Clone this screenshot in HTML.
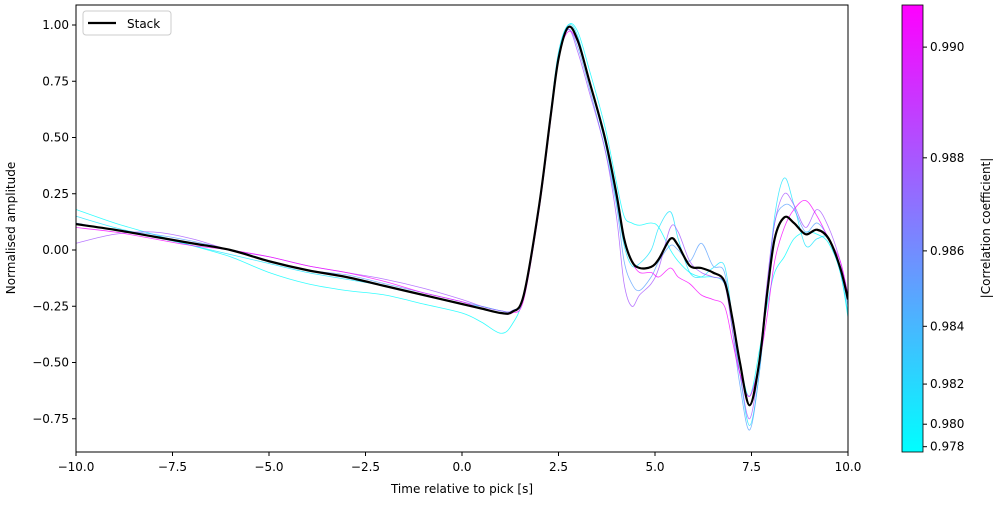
<!DOCTYPE html>
<html><head><meta charset="utf-8"><style>
body{margin:0;background:#fff;font-family:"Liberation Sans","DejaVu Sans",sans-serif}
svg text{font-family:"DejaVu Sans","Liberation Sans",sans-serif;font-size:12px;fill:#000}
</style></head><body>
<svg id="chart" width="1000" height="500" xmlns="http://www.w3.org/2000/svg">
<defs><linearGradient id="cg" x1="0" y1="1" x2="0" y2="0"><stop offset="0" stop-color="#00ffff"/><stop offset="1" stop-color="#ff00ff"/></linearGradient>
<clipPath id="clip"><rect x="76" y="5" width="772" height="447"/></clipPath></defs>
<g id="traces" clip-path="url(#clip)"></g>
<rect x="76" y="5" width="772" height="447" fill="none" stroke="#000"/>
<g id="axes"></g>
<text x="462" y="493" text-anchor="middle">Time relative to pick [s]</text>
<text transform="translate(15,228) rotate(-90)" text-anchor="middle">Normalised amplitude</text>
<g>
<rect x="83" y="11" width="88" height="24" rx="3" fill="#fff" stroke="#ccc"/>
<line x1="88" y1="23" x2="116" y2="23" stroke="#000" stroke-width="2.2"/>
<text x="127" y="28">Stack</text></g>
<rect x="902" y="5" width="21" height="447" fill="url(#cg)" stroke="#000" stroke-width="0.8"/>
<g id="cbticks"></g>
<text transform="translate(990,228) rotate(-90)" text-anchor="middle">|Correlation coefficient|</text>
</svg>
<script>
const times=[-10,-9,-8,-7,-6,-5,-4,-3,-2,-1,0,0.5,1,1.3,1.6,2,2.3,2.5,2.75,3,3.3,3.7,4,4.2,4.4,4.6,4.9,5.1,5.4,5.6,5.9,6.2,6.5,6.8,7,7.2,7.45,7.7,7.9,8.1,8.35,8.6,8.9,9.2,9.5,9.8,10];
const stack=[0.115,0.09,0.06,0.03,0.0,-0.05,-0.09,-0.12,-0.16,-0.2,-0.24,-0.26,-0.28,-0.275,-0.2,0.2,0.6,0.85,0.99,0.93,0.75,0.5,0.25,0.05,-0.05,-0.08,-0.075,-0.04,0.05,0.02,-0.07,-0.08,-0.1,-0.14,-0.3,-0.5,-0.69,-0.5,-0.2,0.05,0.145,0.12,0.07,0.09,0.05,-0.08,-0.22];
const corr=[0.978,0.981,0.985,0.988,0.9905];
const tr0=[0.18,0.12,0.07,0.02,-0.03,-0.1,-0.15,-0.18,-0.2,-0.24,-0.28,-0.32,-0.37,-0.33,-0.2,0.2,0.6,0.87,1.0,0.97,0.8,0.55,0.3,0.15,0.12,0.11,0.12,0.1,0.0,-0.05,-0.1,-0.12,-0.12,-0.15,-0.3,-0.5,-0.65,-0.45,-0.25,-0.1,-0.03,0.05,0.08,0.07,0.03,-0.1,-0.3];
const tr1=[0.15,0.1,0.06,0.02,-0.02,-0.06,-0.1,-0.13,-0.16,-0.2,-0.24,-0.25,-0.27,-0.27,-0.2,0.2,0.62,0.88,1.0,0.95,0.75,0.48,0.22,0.02,-0.07,-0.06,0.0,0.1,0.17,0.05,-0.1,-0.12,-0.08,-0.07,-0.3,-0.55,-0.78,-0.55,-0.2,0.15,0.32,0.2,0.02,0.05,0.05,-0.1,-0.28];
const tr2=[0.12,0.09,0.07,0.04,0.0,-0.05,-0.09,-0.11,-0.15,-0.19,-0.23,-0.25,-0.27,-0.27,-0.2,0.2,0.6,0.85,0.98,0.9,0.72,0.45,0.2,-0.05,-0.15,-0.18,-0.12,-0.05,0.02,0.0,-0.05,0.03,-0.07,-0.1,-0.35,-0.6,-0.8,-0.55,-0.2,0.12,0.2,0.18,0.08,0.12,0.05,-0.08,-0.25];
const tr3=[0.03,0.07,0.08,0.05,0.0,-0.03,-0.07,-0.1,-0.13,-0.17,-0.22,-0.25,-0.27,-0.27,-0.2,0.2,0.6,0.85,0.98,0.88,0.7,0.45,0.15,-0.15,-0.25,-0.2,-0.15,-0.08,0.1,0.08,-0.05,-0.1,-0.12,-0.15,-0.35,-0.55,-0.75,-0.5,-0.15,0.12,0.25,0.2,0.1,0.18,0.1,-0.05,-0.2];
const tr4=[0.1,0.08,0.05,0.02,0.0,-0.03,-0.07,-0.1,-0.14,-0.19,-0.23,-0.26,-0.28,-0.28,-0.22,0.18,0.58,0.85,0.97,0.92,0.75,0.5,0.25,0.05,-0.05,-0.1,-0.1,-0.12,-0.08,-0.12,-0.15,-0.2,-0.22,-0.25,-0.4,-0.55,-0.65,-0.5,-0.3,-0.05,0.1,0.18,0.22,0.15,0.05,-0.05,-0.2];
const xTicks=[-10,-7.5,-5,-2.5,0,2.5,5,7.5,10];
const yTicks=[1,0.75,0.5,0.25,0,-0.25,-0.5,-0.75];
const cTicks=[0.978,0.980,0.982,0.984,0.986,0.988,0.990];

const NS='http://www.w3.org/2000/svg';
const X=t=>76+(t+10)*38.6, Y=v=>250-v*225;
// non-linear colorbar scale (power norm): height above bar bottom
const cA=0.97645, cK=1485;
const cH=v=>Math.min(447,Math.pow(Math.max(0,(v-cA)*cK),2));
const C=v=>452-cH(v);
function mk(tag,a,p){const e=document.createElementNS(NS,tag);for(const k in a)e.setAttribute(k,a[k]);p.appendChild(e);return e;}
function path(vals){const p=times.map((t,i)=>[X(t),Y(vals[i])]);let d='M'+p[0][0]+','+p[0][1];
for(let i=0;i<p.length-1;i++){const a=p[Math.max(i-1,0)],b=p[i],c=p[i+1],e=p[Math.min(i+2,p.length-1)];
d+=' C'+(b[0]+(c[0]-a[0])/6)+','+(b[1]+(c[1]-a[1])/6)+' '+(c[0]-(e[0]-b[0])/6)+','+(c[1]-(e[1]-b[1])/6)+' '+c[0]+','+c[1];}return d;}
function col(v){const f=cH(v)/447;return 'rgb('+Math.round(255*f)+','+Math.round(255*(1-f))+',255)';}
const g=document.getElementById('traces');
[tr0,tr1,tr2,tr3,tr4].forEach((tr,i)=>{const e=mk('path',{d:path(tr),fill:'none',stroke:col(corr[i]),'stroke-width':0.8,opacity:0.8},g);

});
const s=mk('path',{d:path(stack),fill:'none',stroke:'#000','stroke-width':2.2},g);


const ax=document.getElementById('axes');
xTicks.forEach(t=>{mk('line',{x1:X(t),x2:X(t),y1:452,y2:456,stroke:'#000'},ax);
const tx=mk('text',{x:X(t),y:471,'text-anchor':'middle'},ax);tx.textContent=t.toFixed(1).replace('-','−');

});
yTicks.forEach(v=>{mk('line',{x1:72,x2:76,y1:Y(v),y2:Y(v),stroke:'#000'},ax);
const tx=mk('text',{x:69,y:Y(v)+4,'text-anchor':'end'},ax);tx.textContent=v.toFixed(2).replace('-','−');

});
const cb=document.getElementById('cbticks');
cTicks.forEach(v=>{mk('line',{x1:923,x2:927,y1:C(v),y2:C(v),stroke:'#000'},cb);
const tx=mk('text',{x:930,y:C(v)+4},cb);tx.textContent=v.toFixed(3);

});
</script>
</body></html>
